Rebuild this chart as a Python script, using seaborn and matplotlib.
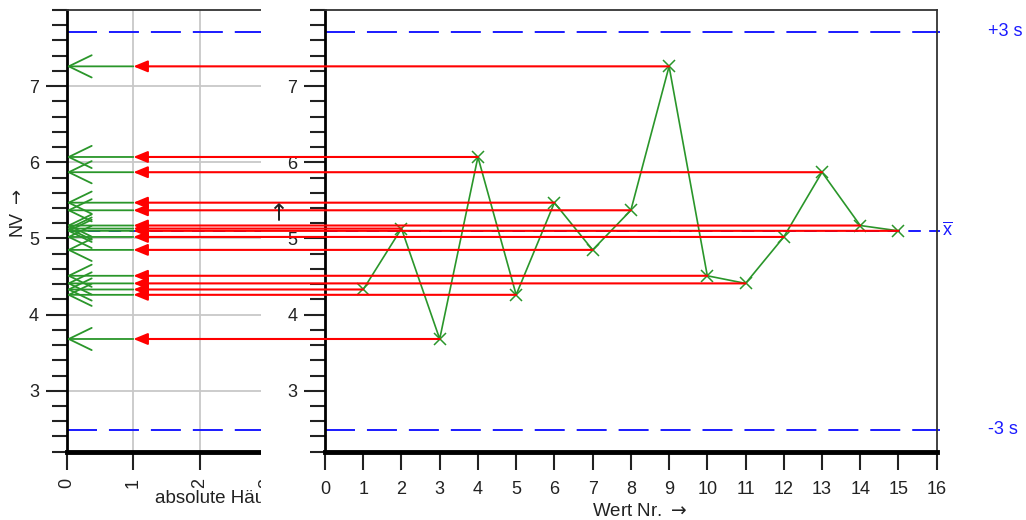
import numpy as np
import pandas as pd
import matplotlib
matplotlib.use("Agg")
import matplotlib.pyplot as plt
import seaborn as sns
from matplotlib.patches import Rectangle
from matplotlib.ticker import MultipleLocator

# Messwerte (NV) je Wert Nr.
values = [4.33, 5.13, 3.68, 6.07, 4.26, 5.47, 4.85, 5.37, 7.26, 4.51,
          4.41, 5.02, 5.87, 5.17, 5.10]
wert_nr = list(range(1, len(values) + 1))
freq_ticks = [0, 1, 2, 3]
wert_ticks = list(range(0, 17))
nv_ticks = [3, 4, 5, 6, 7]

data = pd.DataFrame({"wert_nr": wert_nr, "nv": values})
mean_val = data["nv"].mean()
s = data["nv"].std()
upper_3s = mean_val + 3 * s
lower_3s = mean_val - 3 * s
counts = data["nv"].value_counts()

sns.set_theme(style="ticks")
plt.rcParams["font.family"] = ["Liberation Sans", "DejaVu Sans"]
plt.rcParams["lines.scale_dashes"] = False
plt.rcParams["mathtext.fontset"] = "dejavusans"

GREEN = "#2a962a"
BLUE = "#1a1aff"
RED = "#ff0000"
INK = "#222222"
FS = 13

W, H = 1026, 520
fig = plt.figure(figsize=(W / 100, H / 100), dpi=100)


def px_box(x0, y0, x1, y1):
    # pixel box (top-left origin) -> figure fraction
    return [x0 / W, 1 - y1 / H, (x1 - x0) / W, (y1 - y0) / H]


ax_h = fig.add_axes(px_box(66.7, 10, 300, 451.7), zorder=0)
ax = fig.add_axes(px_box(325, 10, 936.7, 451.7), zorder=1)
# right panel covers the end of the histogram panel
fig.add_artist(Rectangle((261 / W, 0), 1 - 261 / W, 1, transform=fig.transFigure,
                         facecolor="white", edgecolor="none", zorder=0.5))

ylim = (2.2, 8.0)
for a in (ax_h, ax):
    a.set_ylim(*ylim)
    a.set_yticks(nv_ticks)
    a.yaxis.set_minor_locator(MultipleLocator(0.2))
    a.tick_params(axis="y", which="major", length=15, width=1.5, pad=5,
                  labelsize=FS, colors=INK)
    a.tick_params(axis="y", which="minor", length=11, width=1.5, color=INK)
    a.tick_params(axis="x", which="major", length=13, width=1.5, labelsize=FS,
                  colors=INK)
    a.spines["left"].set_linewidth(2)
    a.spines["bottom"].set_linewidth(3.5)
    a.spines["left"].set_color("black")
    a.spines["bottom"].set_color("black")
    for side in ("top", "right"):
        a.spines[side].set_visible(True)
        a.spines[side].set_linewidth(1.3)
        a.spines[side].set_color("#333333")

# --- histogram panel (absolute frequency) ---
ax_h.set_xlim(0, 3.5)
ax_h.set_xticks(freq_ticks)
ax_h.set_xticklabels([str(t) for t in freq_ticks], rotation=90)
ax_h.tick_params(axis="x", pad=6)
ax_h.grid(True, which="major", color="#c8c8c8", lw=1.3)
ax_h.set_axisbelow(True)

for yv, dash in ((upper_3s, (21.6, 8.6)), (lower_3s, (21.6, 8.6)), (mean_val, (9, 6))):
    ax_h.axhline(yv, color=BLUE, lw=1.4, dashes=dash)

for v in values:
    ax_h.annotate("", xy=(0, v), xytext=(counts[v], v),
                  arrowprops=dict(arrowstyle="->,head_length=16.5,head_width=8",
                                  color=GREEN, lw=1.3, shrinkA=0, shrinkB=0,
                                  mutation_scale=1))

ax_h.set_ylabel(r"NV $\rightarrow$", fontsize=FS, color=INK)
ax_h.yaxis.set_label_coords(-0.17, 0.54)
ax_h.set_xlabel("absolute Häufigkeit", fontsize=FS + 0.5, color=INK,
                ha="left", va="top")
ax_h.xaxis.set_label_coords(0.378, -0.087)

# --- run chart panel ---
ax.set_xlim(0, 16)
ax.set_xticks(wert_ticks)
ax.tick_params(axis="x", pad=8)
ax.grid(False)

for yv, dash in ((upper_3s, (21.6, 8.6)), (lower_3s, (21.6, 8.6)), (mean_val, (9, 6))):
    ax.axhline(yv, xmax=1.006, color=BLUE, lw=1.4, dashes=dash, clip_on=False)

sns.lineplot(data=data, x="wert_nr", y="nv", ax=ax, color=GREEN, lw=1.2,
             marker="x", markersize=9, markeredgecolor=GREEN, markeredgewidth=1.1)

for i, v in zip(wert_nr, values):
    ax.annotate("", xy=(counts[v], v), xycoords=ax_h.transData,
                xytext=(i, v), textcoords=ax.transData,
                arrowprops=dict(arrowstyle="-|>,head_length=8.5,head_width=3.5",
                                color=RED, lw=1.5, shrinkA=0, shrinkB=0,
                                mutation_scale=1))

ax.set_ylabel("")
ax.set_xlabel(r"Wert Nr. $\rightarrow$", fontsize=FS + 0.5, color=INK, va="top")
ax.xaxis.set_label_coords(0.515, -0.116)

trans = ax.get_yaxis_transform()
ax.text(1.084, upper_3s, "+3 s", transform=trans, color=BLUE, fontsize=FS,
        ha="left", va="center", clip_on=False)
ax.text(1.084, lower_3s, "-3 s", transform=trans, color=BLUE, fontsize=FS,
        ha="left", va="center", clip_on=False)
ax.text(1.009, mean_val, r"$\overline{\mathregular{x}}$", transform=trans, color=BLUE,
        fontsize=FS, ha="left", va="center", clip_on=False)

fig.text(281 / W, 1 - 213 / H, r"$\rightarrow$", rotation=90, ha="center", va="center",
         fontsize=17, color=INK, zorder=5)

fig.savefig("out.png", dpi=100)
